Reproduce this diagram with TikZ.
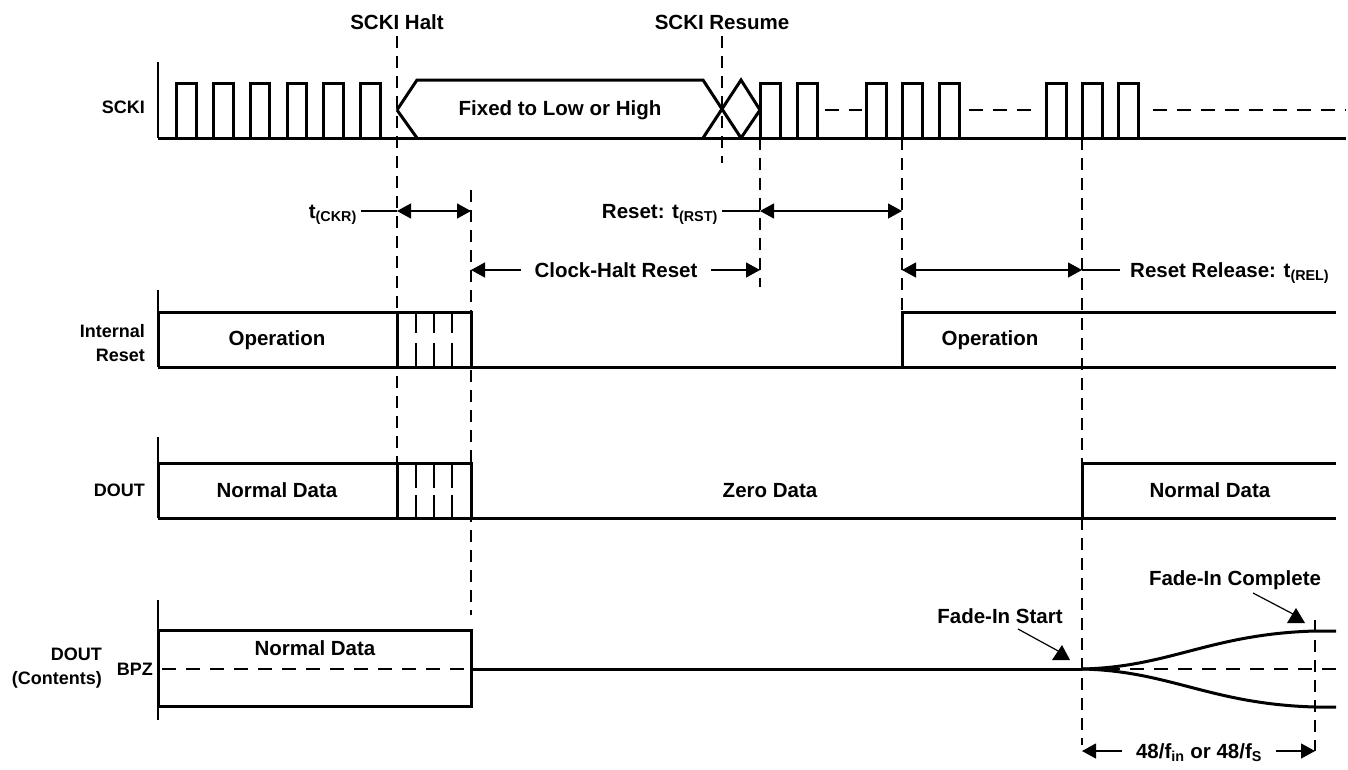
\documentclass[tikz,border=0pt]{standalone}
\usepackage{fontspec}
\setmainfont{Liberation Sans}
\usetikzlibrary{arrows.meta, positioning}

\tikzset{
  sig/.style={line width=3pt, line join=miter},
  hair/.style={line width=1.2pt},
  guide/.style={line width=1.2pt, dash pattern=on 12pt off 8pt},
  midline/.style={line width=1.2pt, dash pattern=on 14pt off 10pt},
  ar/.style={hair, -{Triangle[length=14pt,width=15pt]}},
  dim/.style={hair, {Triangle[length=14pt,width=15pt]}-{Triangle[length=14pt,width=15pt]}},
  lbl/.style={font=\fontsize{20.5}{24}\selectfont\bfseries, text height=14.7pt, text depth=0pt, inner ysep=0pt, inner xsep=4pt},
  side/.style={font=\fontsize{18}{24}\selectfont\bfseries, align=right, inner sep=0pt}
}

\begin{document}
\begin{tikzpicture}[x=1pt, y=-1pt]
\useasboundingbox (0,0) rectangle (1348,769);

% time markers
\draw[guide] (397,36) -- (397,463);
\draw[guide] (471,190) -- (471,615);
\draw[guide] (722,36) -- (722,163);
\draw[guide] (760,138) -- (760,287);
\draw[guide] (902,138) -- (902,312);
\draw[guide] (1082,138) -- (1082,745);
\draw[guide] (1315,620) -- (1315,751);
\foreach \a/\b in {62/138, 290/367, 437/518, 600/720}
  \draw[hair] (158,\a) -- (158,\b);

\node[lbl] (halt) at (397,22) {SCKI Halt};
\node[lbl] (resume) at (722,22) {SCKI Resume};

% SCKI
\node[side, anchor=east] (scki) at (145,107) {SCKI};
\draw[sig] (158,138) -- (1346,138);
\foreach \k in {0,...,5}
  \draw[sig] ({176.7+36.8*\k},138) -- ++(0,-55) -- ++(19.5,0) -- ++(0,55);
\foreach \x in {760,797,866,902,939,1046,1082,1118}
  \draw[sig] (\x,138) -- ++(0,-55) -- ++(20,0) -- ++(0,55);
\draw[sig] (397,110) -- (417,80) -- (703,80) -- (741,138);
\draw[sig] (397,110) -- (417,138);
\draw[sig] (703,138) -- (741,80) -- (760,110) -- (741,138);
\node[lbl] (fixed) at (560,108) {Fixed to Low or High};
\draw[midline] (825,110) -- (862,110);
\draw[midline] (969,110) -- (1038,110);
\draw[midline] (1153,110) -- (1346,110);

% timing arrows
\node[lbl, anchor=east] (tckr) at (361,211) {t\textsubscript{(CKR)}};
\coordinate (ckrA) at (397,211);
\coordinate (ckrB) at (471,211);
\draw[hair] (tckr.east) -- (ckrA);
\draw[dim] (ckrA) -- (ckrB);
\node[lbl, anchor=east] (trst) at (722,211) {Reset: t\textsubscript{(RST)}};
\coordinate (rstA) at (760,211);
\coordinate (rstB) at (902,211);
\draw[hair] (trst.east) -- (rstA);
\draw[dim] (rstA) -- (rstB);

\node[lbl, inner xsep=13pt] (chr) at (616,270) {Clock-Halt Reset};
\coordinate (chrA) at (471,270);
\coordinate (chrB) at (760,270);
\draw[ar] (chr.west) -- (chrA);
\draw[ar] (chr.east) -- (chrB);
\coordinate (relA) at (902,270);
\coordinate (relB) at (1082,270);
\draw[dim] (relA) -- (relB);
\node[lbl, anchor=west, inner xsep=10pt] (trel) at (1120,270) {Reset Release: t\textsubscript{(REL)}};
\draw[hair] (relB) -- (trel.west);

% Internal Reset
\node[side, anchor=east] (ireset) at (145,343) {Internal\\Reset};
\draw[sig] (158,367) -- (1336,367);
\draw[sig] (158,367) -- (158,312) -- (471,312) -- (471,367);
\draw[sig] (397,312) -- (397,367);
\foreach \x in {416,434,452}
  \draw[hair] (\x,312) -- (\x,333) (\x,343) -- (\x,367);
\draw[sig] (902,367) -- (902,312) -- (1336,312);
\node[lbl] (op1) at (277,338) {Operation};
\node[lbl] (op2) at (990,338) {Operation};

% DOUT
\node[side, anchor=east] (dout) at (145,490) {DOUT};
\draw[sig] (158,518) -- (1336,518);
\draw[sig] (158,518) -- (158,463) -- (471,463) -- (471,518);
\draw[sig] (397,463) -- (397,518);
\foreach \x in {416,434,452}
  \draw[hair] (\x,463) -- (\x,488) (\x,495) -- (\x,518);
\draw[sig] (1082,518) -- (1082,463) -- (1336,463);
\node[lbl] (nd1) at (277,490) {Normal Data};
\node[lbl] (zd) at (770,490) {Zero Data};
\node[lbl] (nd2) at (1210,490) {Normal Data};

% DOUT contents
\node[side, anchor=east] (doutc) at (102,668) {DOUT\\(Contents)};
\node[side, anchor=east] (bpz) at (153,669) {BPZ};
\draw[sig] (158,630) rectangle (471,706);
\draw[midline] (162,669) -- (471,669);
\draw[sig] (471,669) -- (1082,669);
\draw[midline] (1082,669) -- (1336,669);
\draw[sig] (1082,669) .. controls (1170,667) and (1210,634) .. (1315,631) -- (1336,631);
\draw[sig] (1082,669) .. controls (1170,671) and (1210,704) .. (1315,707) -- (1336,707);
\node[lbl] (nd3) at (315,648) {Normal Data};

% fade-in pointers
\node[lbl] (fis) at (1000,616) {Fade-In Start};
\coordinate (fisA) at (1018,629);
\coordinate (fisT) at (1060,652);
\draw[hair] (fisA) -- (fisT);
\fill (fisT) ++(-8,8) -- ++(18,0) -- ++(-8,-15) -- cycle;
\node[lbl] (fic) at (1235,578) {Fade-In Complete};
\coordinate (ficA) at (1253,593);
\coordinate (ficT) at (1293,614);
\draw[hair] (ficA) -- (ficT);
\fill (ficT) ++(-6,9) -- ++(18,0) -- ++(-9,-15) -- cycle;

\node[lbl, inner xsep=14pt] (len) at (1199,751) {48/f\textsubscript{in} or 48/f\textsubscript{S}};
\coordinate (lenA) at (1082,751);
\coordinate (lenB) at (1315,751);
\draw[ar] (len.west) -- (lenA);
\draw[ar] (len.east) -- (lenB);
\end{tikzpicture}
\end{document}
